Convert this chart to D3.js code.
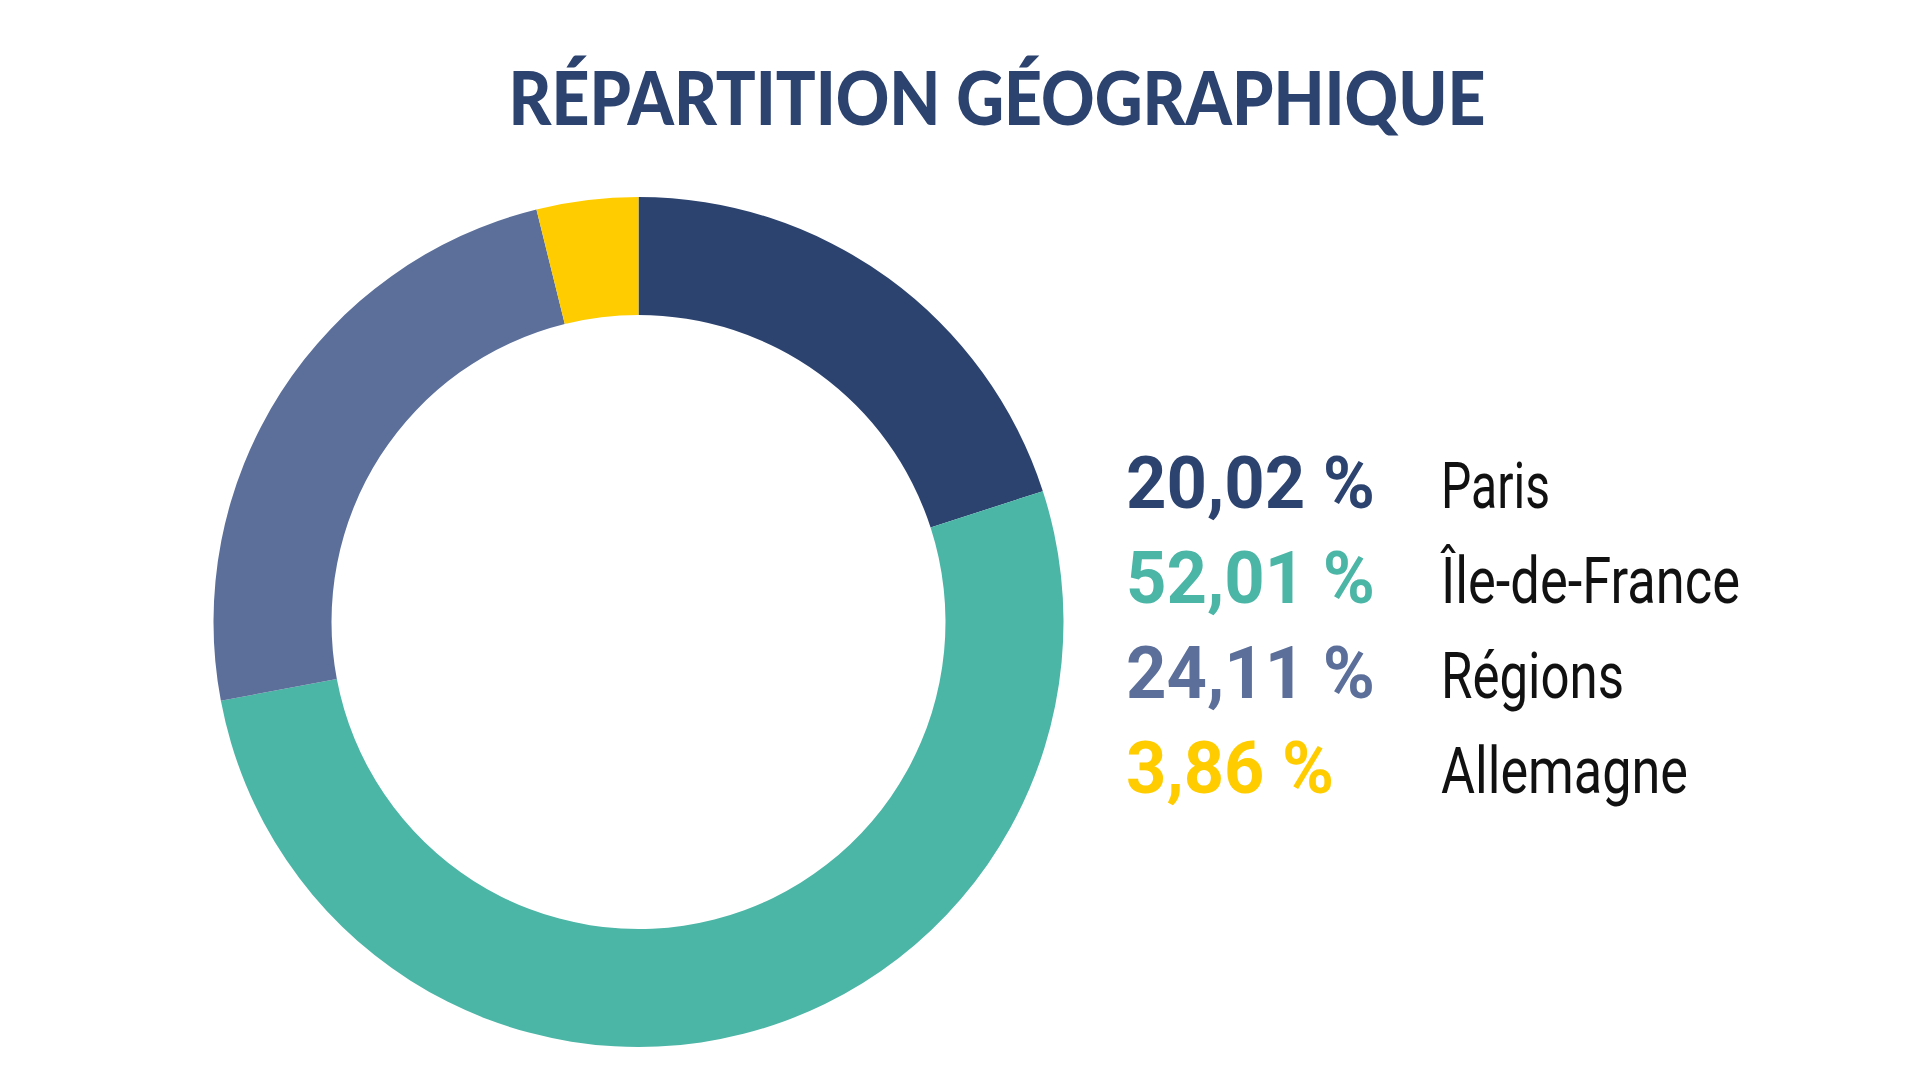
<!DOCTYPE html>
<html><head><meta charset="utf-8">
<script src="https://cdn.jsdelivr.net/npm/d3@7"></script>
<style>html,body{margin:0;padding:0;background:#fff;}svg{display:block;}</style>
</head><body>
<svg id="c" width="1920" height="1080"></svg>
<script>
const title = "RÉPARTITION GÉOGRAPHIQUE";
const categories = ["Paris", "Île-de-France", "Régions", "Allemagne"];
const values = [20.02, 52.01, 24.11, 3.86];
const valueLabels = ["20,02 %", "52,01 %", "24,11 %", "3,86 %"];
const colors = ["#2c4370", "#4bb5a6", "#5b6f9a", "#ffcc00"];

const svg = d3.select("#c");
const cx = 638.5, cy = 622, rOuter = 425, rInner = 307;

const pie = d3.pie().sort(null).value(d => d)(values);
const arc = d3.arc().innerRadius(rInner).outerRadius(rOuter);
svg.append("g").attr("transform", `translate(${cx},${cy})`)
  .selectAll("path").data(pie).join("path")
  .attr("d", arc).attr("fill", (d, i) => colors[i]);

// title
const t = svg.append("text").attr("x", 997).attr("y", 125)
  .attr("text-anchor", "middle")
  .style("font-family", "Lato, 'Open Sans', sans-serif")
  .style("font-weight", 900).style("font-size", "75px")
  .attr("fill", "#2c4370").text(title);
t.attr("textLength", 977).attr("lengthAdjust", "spacingAndGlyphs");

// legend
const y = d3.scalePoint().domain(categories).range([508, 793]);
const lg = svg.append("g");
const numW = [249, 249, 249, 208];
lg.selectAll("text.num").data(categories).join("text")
  .attr("class", "num")
  .attr("x", 1126).attr("y", d => y(d))
  .style("font-family", "Roboto, sans-serif").style("font-weight", 700)
  .style("font-size", "72px")
  .attr("fill", (d, i) => colors[i])
  .text((d, i) => valueLabels[i])
  .attr("textLength", (d, i) => numW[i]).attr("lengthAdjust", "spacingAndGlyphs");

const labW = [109, 299, 183, 247];
lg.selectAll("text.lab").data(categories).join("text")
  .attr("class", "lab")
  .attr("x", 1441).attr("y", d => y(d))
  .style("font-family", "Roboto, sans-serif").style("font-weight", 400)
  .style("font-size", "64px")
  .attr("fill", "#111111")
  .text(d => d)
  .attr("textLength", (d, i) => labW[i]).attr("lengthAdjust", "spacingAndGlyphs");
</script>
</body></html>
